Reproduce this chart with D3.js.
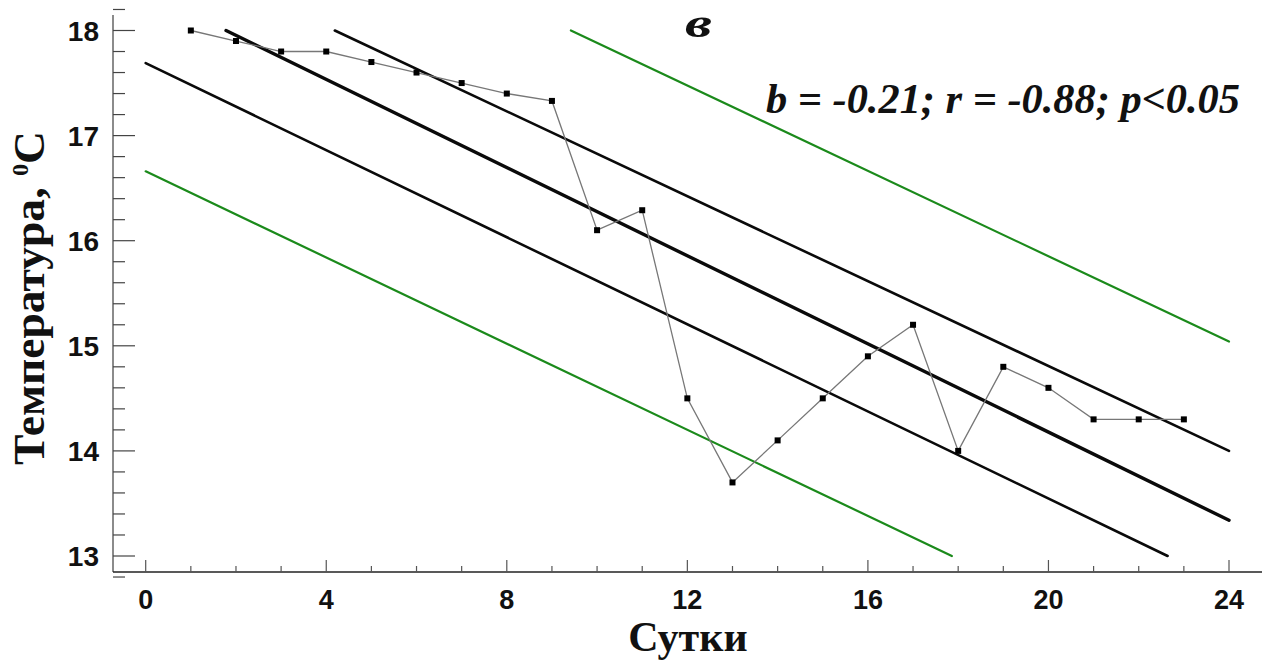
<!DOCTYPE html>
<html><head><meta charset="utf-8">
<script src="https://cdn.jsdelivr.net/npm/d3@7"></script>
<style>html,body{margin:0;padding:0;background:#fff;}svg{display:block;}</style>
</head><body>
<script>
// ---- data ----
const days = [1,2,3,4,5,6,7,8,9,10,11,12,13,14,15,16,17,18,19,20,21,22,23];
const temps = [18.0,17.9,17.8,17.8,17.7,17.6,17.5,17.4,17.33,16.1,16.29,14.5,13.7,14.1,14.5,14.9,15.2,14.0,14.8,14.6,14.3,14.3,14.3];
// regression line and bands (end points in data units)
const fitX = [1.78, 24];      const fitY = [18.0, 13.34];
const ciUpX = [4.19, 24];     const ciUpY = [18.0, 14.0];
const ciLoX = [0, 22.64];     const ciLoY = [17.69, 13.0];
const piUpX = [9.42, 24];     const piUpY = [18.0, 15.04];
const piLoX = [0, 17.86];     const piLoY = [16.66, 13.0];
const xTicks = [0,4,8,12,16,20,24];
const yTicks = [13,14,15,16,17,18];
const xLabel = "Сутки";
const yLabel = "Температура, ";
const panelLabel = "в";
const statsText = "b = -0.21; r = -0.88; p<0.05";

// ---- layout ----
const W = 1271, H = 661;
const svg = d3.select("body").append("svg").attr("width", W).attr("height", H);
const x = d3.scaleLinear().domain([0, 24]).range([145.7, 1229]);
const y = d3.scaleLinear().domain([13, 18]).range([556, 30.5]);
const axL = 113, axB = 572, axR = 1262, axT = 15;

// axes lines
svg.append("line").attr("x1", axL).attr("x2", axL).attr("y1", axT).attr("y2", axB)
  .attr("stroke", "#6e6e6e").attr("stroke-width", 1.6);
svg.append("line").attr("x1", axL).attr("x2", axR).attr("y1", axB).attr("y2", axB)
  .attr("stroke", "#222").attr("stroke-width", 1.6);

// y ticks (inward)
const yMinor = d3.range(12.8, 18.21, 0.2);
svg.append("g").selectAll("line").data(yMinor).join("line")
  .attr("x1", axL).attr("x2", d => Math.abs(d - Math.round(d)) < 1e-6 ? axL + 22 : axL + 12)
  .attr("y1", d => y(d)).attr("y2", d => y(d))
  .attr("stroke", "#444").attr("stroke-width", 1.2);
svg.append("g").selectAll("text").data(yTicks).join("text")
  .attr("x", 99).attr("y", d => y(d)).attr("dy", "0.36em")
  .attr("text-anchor", "end")
  .attr("font-family", "Liberation Sans, Arial, sans-serif").attr("font-weight", "bold")
  .attr("font-size", 28).attr("fill", "#111").text(d => d);

// x ticks (inward)
const xMinor = d3.range(0, 25, 1);
svg.append("g").selectAll("line").data(xMinor).join("line")
  .attr("x1", d => x(d)).attr("x2", d => x(d))
  .attr("y1", axB).attr("y2", d => d % 4 === 0 ? axB - 12 : axB - 6)
  .attr("stroke", "#555").attr("stroke-width", 1.2);
svg.append("g").selectAll("text").data(xTicks).join("text")
  .attr("x", d => x(d)).attr("y", 609)
  .attr("text-anchor", "middle")
  .attr("font-family", "Liberation Sans, Arial, sans-serif").attr("font-weight", "bold")
  .attr("font-size", 27).attr("fill", "#111").text(d => d);

// axis titles
svg.append("text").attr("x", 688).attr("y", 651).attr("text-anchor", "middle")
  .attr("font-family", "Liberation Serif, Times New Roman, serif").attr("font-weight", "bold")
  .attr("font-size", 42).attr("fill", "#111").text(xLabel);
const yt = svg.append("text").attr("transform", "translate(44,298) rotate(-90)")
  .attr("text-anchor", "middle")
  .attr("font-family", "Liberation Serif, Times New Roman, serif").attr("font-weight", "bold")
  .attr("font-size", 45).attr("fill", "#111")
  .attr("textLength", 334).attr("lengthAdjust", "spacingAndGlyphs");
yt.append("tspan").text(yLabel);
yt.append("tspan").attr("font-size", 24).attr("dy", -16).text("0");
yt.append("tspan").attr("dy", 16).text("C");

// panel label and stats
svg.append("text").attr("x", 685).attr("y", 37)
  .attr("font-family", "Liberation Serif, Times New Roman, serif").attr("font-weight", "bold")
  .attr("font-style", "italic").attr("font-size", 40).attr("fill", "#111")
  .attr("textLength", 27).attr("lengthAdjust", "spacingAndGlyphs").text(panelLabel);
svg.append("text").attr("x", 766).attr("y", 113)
  .attr("font-family", "Liberation Serif, Times New Roman, serif").attr("font-weight", "bold")
  .attr("font-style", "italic").attr("font-size", 42).attr("fill", "#111")
  .attr("textLength", 474).attr("lengthAdjust", "spacingAndGlyphs").text(statsText);

// lines
const ln = d3.line().x(d => x(d[0])).y(d => y(d[1]));
function seg(xs, ys, color, w) {
  svg.append("path").attr("d", ln(d3.zip(xs, ys))).attr("fill", "none")
    .attr("stroke", color).attr("stroke-width", w).attr("stroke-linecap", "round");
}
seg(piUpX, piUpY, "#1b8a1b", 2.2);
seg(piLoX, piLoY, "#1b8a1b", 2.2);
seg(ciUpX, ciUpY, "#0a0a0a", 2.6);
seg(ciLoX, ciLoY, "#0a0a0a", 2.6);
seg(fitX, fitY, "#0a0a0a", 3.4);

// data series
svg.append("path").attr("d", ln(d3.zip(days, temps))).attr("fill", "none")
  .attr("stroke", "#777").attr("stroke-width", 1.3);
svg.append("g").selectAll("rect").data(d3.zip(days, temps)).join("rect")
  .attr("x", d => x(d[0]) - 3).attr("y", d => y(d[1]) - 3)
  .attr("width", 6).attr("height", 6).attr("fill", "#000");
</script>
</body></html>
